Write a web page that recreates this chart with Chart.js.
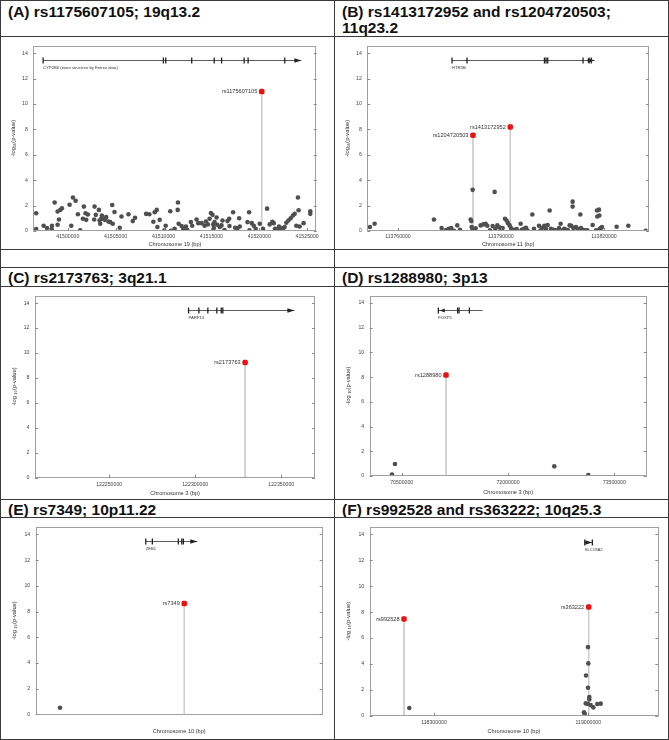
<!DOCTYPE html>
<html><head><meta charset="utf-8">
<script src="https://cdn.jsdelivr.net/npm/chart.js@4.4.1/dist/chart.umd.min.js"></script>
<style>
html,body{margin:0;padding:0;background:#fff;}
#wrap{position:relative;width:669px;height:740px;overflow:hidden;font-family:"Liberation Sans",Arial,sans-serif;}
.hl{position:absolute;left:0;width:669px;height:1px;background:#3a3a3a;z-index:5;}
.vl{position:absolute;top:0;width:1px;height:740px;background:#3a3a3a;z-index:5;}
.ttl{position:absolute;font-weight:bold;font-size:15.5px;line-height:16px;color:#111;white-space:normal;}
canvas{position:absolute;}
</style></head>
<body><div id="wrap">
<canvas id="cA" width="334" height="213" style="left:0;top:37px"></canvas>
<canvas id="cB" width="335" height="213" style="left:334px;top:37px"></canvas>
<canvas id="cC" width="334" height="213" style="left:0;top:287px"></canvas>
<canvas id="cD" width="335" height="213" style="left:334px;top:287px"></canvas>
<canvas id="cE" width="334" height="222" style="left:0;top:518px"></canvas>
<canvas id="cF" width="335" height="222" style="left:334px;top:518px"></canvas>
<div class="ttl" style="left:8px;top:4px">(A) rs1175607105; 19q13.2</div>
<div class="ttl" style="left:342px;top:4px;width:320px">(B) rs1413172952 and rs1204720503; 11q23.2</div>
<div class="ttl" style="left:8px;top:269.5px">(C) rs2173763; 3q21.1</div>
<div class="ttl" style="left:342px;top:269.5px">(D) rs1288980; 3p13</div>
<div class="ttl" style="left:8px;top:502px">(E) rs7349; 10p11.22</div>
<div class="ttl" style="left:342px;top:502px">(F) rs992528 and rs363222; 10q25.3</div>
<div class="hl" style="top:0"></div>
<div class="hl" style="top:36px"></div>
<div class="hl" style="top:249px"></div>
<div class="hl" style="top:267px"></div>
<div class="hl" style="top:286px"></div>
<div class="hl" style="top:499px"></div>
<div class="hl" style="top:517px"></div>
<div class="hl" style="top:739px"></div>
<div class="vl" style="left:0"></div>
<div class="vl" style="left:334px"></div>
<div class="vl" style="left:668px"></div>
</div>
<script>
// ---------------- DATA ----------------
const yTicks = [0, 2, 4, 6, 8, 10, 12, 14];
const yMax = 14.6;
const geneTrackY = 13.45;

// Panel A  (chromosome 19)
const aXTicks = [41500000, 41505000, 41510000, 41515000, 41520000, 41525000];
const aPos = [41496700,41496700,41497480,41497830,41498350,41498320,41498630,41498940,41498940,41499080,
41499220,41499390,41500190,41500365,41500540,41500820,41501060,41501300,41501680,41501580,
41501860,41501930,41502100,41502800,41502760,41502930,41503250,41503320,41503390,41503490,
41503560,41503730,41503870,41504010,41504250,41504430,41504640,41504700,41504880,41505430,
41505610,41506340,41506790,41507030,41508180,41508520,41508940,41509080,41509290,41509360,
41509600,41510090,41510230,41510710,41510780,41511160,41511480,41511510,41511580,41511890,
41512070,41512340,41512480,41512860,41513000,41513450,41513630,41513980,41514290,41514430,
41514630,41514810,41514950,41515120,41515190,41515260,41515330,41515540,41515610,41515880,
41516060,41516160,41516370,41516680,41516860,41516890,41517270,41517480,41517720,41517900,
41517970,41518770,41518940,41518980,41519220,41519430,41519630,41520050,41520400,41520820,
41521090,41521370,41521510,41521650,41521720,41521960,41522060,41522200,41522310,41522480,
41522650,41522830,41523040,41523280,41523520,41523700,41523870,41524040,41524110,41524220,
41524630,41525330,41525330];
const aLogP = [1.40,0.16,0.41,0.23,0.41,0.16,2.25,1.53,0.49,0.91,
1.66,1.79,2.07,0.41,2.64,2.38,1.32,0.05,1.92,0.96,
1.40,0.88,1.30,1.92,0.91,1.27,1.66,0.83,0.57,0.96,
1.22,0.96,0.88,1.09,0.75,0.70,2.05,0.57,1.50,0.26,
1.14,1.32,0.78,1.04,1.35,1.32,0.73,1.48,1.66,0.31,
0.88,0.05,0.41,1.55,0.02,0.18,1.66,2.25,0.57,0.39,
0.16,0.36,0.08,0.70,0.41,0.91,0.62,0.62,0.41,0.75,
0.52,0.96,1.42,1.27,0.52,0.23,0.70,1.06,0.49,0.31,
0.44,0.83,0.08,0.78,0.96,0.39,1.48,0.26,0.21,1.01,
0.36,0.70,1.48,0.05,0.62,0.41,0.18,0.57,0.18,1.76,
0.52,0.73,0.62,0.18,0.05,0.10,0.36,0.16,0.23,0.10,
0.31,0.65,0.83,1.01,1.22,1.35,0.41,2.64,1.63,0.36,
0.62,1.55,1.35];
const aLeadNames = ["rs1175607105"];
const aLeadPos = [41520260];
const aLeadLogP = [10.98];
const aGeneName = "CYP2B6 (exon structure by Entrez data)";
const aGeneSpan = [41497420, 41524400];
const aExons = [41497420, 41509980, 41510230, 41512940, 41515290, 41516060, 41518420, 41518830, 41522660];

// Panel B  (chromosome 11)
const bXTicks = [113760000, 113790000, 113820000];
const bPos = [113751840,113753200,113770490,113772720,113773890,113774370,113774860,113775540,113776310,113777280,
113778060,113781170,113781360,113781460,113781650,113781750,113782620,113784080,113784860,113785540,
113786020,113786800,113787580,113788160,113788350,113788940,113789420,113789910,113790490,113791170,
113791650,113792040,113792530,113792920,113793400,113793890,113794570,113795730,113796020,113796700,
113797290,113797670,113799130,113799620,113801070,113801560,113802040,113802630,113803110,113803600,
113804180,113804570,113805440,113806020,113806900,113807390,113807970,113808450,113809040,113809520,
113810010,113810490,113810880,113810880,113811070,113811850,113812340,113813110,113813310,113813800,
113814470,113815150,113816710,113817680,113817970,113818550,113818070,113818650,113818750,113819140,
113819420,113823700,113827100,113832150];
const bLogP = [0.31,0.57,0.91,0.23,0.05,0.10,0.18,0.23,0.02,0.44,
0.10,0.91,0.78,0.31,0.05,3.24,0.21,0.44,0.52,0.57,
0.41,0.05,0.39,3.08,0.18,0.44,0.31,0.18,0.23,0.96,
0.83,0.62,0.44,0.23,0.05,0.10,0.16,0.57,0.10,0.18,
0.26,0.05,1.30,0.18,0.41,0.05,0.26,0.41,0.16,0.47,
1.61,0.18,0.10,0.05,0.23,0.57,0.05,0.18,0.10,0.05,
0.44,0.41,2.31,1.92,0.23,0.31,0.16,1.30,0.23,0.10,
0.05,0.05,0.47,0.05,1.61,1.68,1.14,1.22,0.18,0.23,
0.31,0.34,0.41,0.02];
const bLeadNames = ["rs1204720503", "rs1413172952"];
const bLeadPos = [113781850, 113792720];
const bLeadLogP = [7.54, 8.19];
const bGeneName = "HTR3B";
const bGeneSpan = [113775730, 113817300];
const bExons = [113775730, 113780100, 113802650, 113803110, 113803610, 113813890, 113815640, 113816280];

// Panel C  (chromosome 3)
const cXTicks = [122250000, 122300000, 122350000];
const cPos = [];
const cLogP = [];
const cLeadNames = ["rs2173763"];
const cLeadPos = [122329000];
const cLeadLogP = [9.23];
const cGeneName = "PARP15";
const cGeneSpan = [122296100, 122357600];
const cExons = [122296100, 122302090, 122307310, 122312530, 122315080, 122316010];

// Panel D  (chromosome 3)
const dXTicks = [70500000, 72000000, 73500000];
const dPos = [70363100, 70363100, 70405000, 72653300, 73133100];
const dLogP = [0.05, 0.12, 0.97, 0.78, 0.08];
const dLeadNames = ["rs1288980"];
const dLeadPos = [71125100];
const dLeadLogP = [8.17];
const dGeneName = "FOXP1";
const dGeneSpan = [71016500, 71641600];
const dExons = [71016500, 71288800, 71308600, 71453900];

// Panel E  (chromosome 10, no tick labels shown)
const eXTicks = [];
const ePos = [30243000];
const eLogP = [0.51];
const eLeadNames = ["rs7349"];
const eLeadPos = [31486000];
const eLeadLogP = [8.62];
const eGeneName = "ZEB1";
const eGeneSpan = [31100000, 31616000];
const eExons = [31100000, 31166000, 31426000, 31460000, 31476000];

// Panel F  (chromosome 10)
const fXTicks = [118300000, 119000000];
const fPos = [118188000,118998600,119000000,118989600,118998600,119004500,119004500,118988200,118998600,119010900,119022700,119040800,119056200,118980500,118983700];
const fLogP = [0.59,5.30,4.04,3.11,2.16,1.44,1.26,0.95,0.90,0.82,0.64,0.90,0.93,0.26,0.15];
const fLeadNames = ["rs992528", "rs363222"];
const fLeadPos = [118163900, 119001800];
const fLeadLogP = [7.47, 8.40];
const fGeneName = "SLC18A2";
const fGeneSpan = [118983700, 119018100];
const fExons = [118983700, 119018100];

// ---------------- RENDER ----------------
const FAM = '"Liberation Sans", Arial, sans-serif';
Chart.defaults.font.family = FAM;

function line(ctx, x0, y0, x1, y1) { ctx.beginPath(); ctx.moveTo(x0, y0); ctx.lineTo(x1, y1); ctx.stroke(); }

function makePanel(id, d, L) {
  const datasets = [];
  datasets.push({ data: d.leadPos.map((x, i) => ({ x: x, y: d.leadLogP[i] })), backgroundColor: '#ee1111',
    borderWidth: 0, pointStyle: 'rectRounded', pointRadius: 3.2, order: 0 });
  datasets.push({ data: d.pos.map((x, i) => ({ x: x, y: d.logP[i] })), backgroundColor: '#4f4f4f',
    borderWidth: 0, pointRadius: 2.3, order: 1 });
  d.leadPos.forEach((x, i) => {
    datasets.push({ data: [{ x: x, y: d.leadLogP[i] }, { x: x, y: 0 }], showLine: true, borderColor: '#cdcdcd',
      borderWidth: 1, pointRadius: 0, order: 2 });
  });
  const plugin = {
    id: 'locus' + id,
    afterDraw(chart) {
      const { ctx, chartArea: a, scales: { x, y } } = chart;
      ctx.save();
      ctx.strokeStyle = '#a0a0a0'; ctx.lineWidth = 1;
      ctx.strokeRect(Math.round(a.left) + 0.5, Math.round(a.top) + 0.5, Math.round(a.right - a.left) - 1, Math.round(a.bottom - a.top) - 1);
      ctx.strokeStyle = '#8a8a8a';
      yTicks.forEach(v => {
        const py = Math.round(y.getPixelForValue(v)) + 0.5;
        line(ctx, a.left, py, a.left + 3, py);
        line(ctx, a.right - 3, py, a.right, py);
      });
      d.xTicks.forEach(v => {
        const px = Math.round(x.getPixelForValue(v)) + 0.5;
        line(ctx, px, a.bottom, px, a.bottom - 3);
      });
      // gene track
      const gy = Math.round(y.getPixelForValue(geneTrackY)) + 0.5;
      const gx0 = x.getPixelForValue(d.geneSpan[0]);
      const gx1 = x.getPixelForValue(d.geneSpan[1]);
      ctx.strokeStyle = '#333'; ctx.fillStyle = '#222'; ctx.lineWidth = 0.8;
      line(ctx, gx0, gy, gx1, gy);
      d.exons.forEach(e => {
        const ex = x.getPixelForValue(e);
        ctx.fillRect(ex - 0.6, gy - 3, 1.3, 6);
      });
      ctx.beginPath();
      if (d.strand > 0) {
        ctx.moveTo(gx1, gy); ctx.lineTo(gx1 - 7, gy - 2.2); ctx.lineTo(gx1 - 7, gy + 2.2);
      } else {
        ctx.moveTo(gx0 + 1.5, gy); ctx.lineTo(gx0 + 6.5, gy - 2); ctx.lineTo(gx0 + 6.5, gy + 2);
      }
      ctx.closePath(); ctx.fill();
      ctx.font = '4.2px ' + FAM; ctx.textAlign = 'left'; ctx.textBaseline = 'middle'; ctx.fillStyle = '#333';
      ctx.fillText(d.geneName, gx0, gy + 7);
      // lead labels
      ctx.font = '5.6px ' + FAM; ctx.textAlign = 'right'; ctx.fillStyle = '#333';
      d.leadPos.forEach((p, i) => {
        ctx.fillText(d.leadNames[i], x.getPixelForValue(p) - 4.5, y.getPixelForValue(d.leadLogP[i]));
      });
      ctx.restore();
    }
  };
  new Chart(document.getElementById(id), {
    type: 'scatter',
    data: { datasets: datasets },
    plugins: [plugin],
    options: {
      responsive: false, animation: false, devicePixelRatio: 1,
      layout: { padding: { left: 0, top: L.top, right: L.right, bottom: 0 } },
      plugins: { legend: { display: false }, tooltip: { enabled: false } },
      scales: {
        x: {
          type: 'linear', min: d.xMin, max: d.xMax,
          afterBuildTicks: s => { s.ticks = d.xTicks.map(v => ({ value: v })); },
          afterFit: s => { s.height = L.xh; },
          grid: { display: false, drawTicks: false }, border: { display: false },
          ticks: { display: d.xTicks.length > 0, autoSkip: false, maxRotation: 0, padding: L.xtp,
            font: { size: 5.2 }, color: '#444', callback: v => String(v) },
          title: { display: true, text: d.xTitle, font: { size: 5.6 }, color: '#333', padding: { top: 0, bottom: L.xtb } }
        },
        y: {
          type: 'linear', min: 0, max: yMax,
          afterBuildTicks: s => { s.ticks = yTicks.map(v => ({ value: v })); },
          afterFit: s => { s.width = L.yw; },
          grid: { display: false, drawTicks: false }, border: { display: false },
          ticks: { padding: 5.5, font: { size: 5.2 }, color: '#444', callback: v => String(v) },
          title: { display: true, text: d.yTitle, font: { size: 5.8 }, color: '#333', padding: { top: L.ytp, bottom: 0 } }
        }
      }
    }
  });
}

makePanel('cA', { xMin: 41496400, xMax: 41526000, xTicks: aXTicks, pos: aPos, logP: aLogP, leadNames: aLeadNames,
  leadPos: aLeadPos, leadLogP: aLeadLogP, geneName: aGeneName, geneSpan: aGeneSpan, exons: aExons, strand: 1,
  xTitle: 'Chromosome 19 (bp)', yTitle: '-log\u2081\u2080(p-value)' },
  { top: 6.3, right: 17.3, xh: 19, xtp: 2.7, xtb: 2.4, yw: 33.3, ytp: 9.8 });
makePanel('cB', { xMin: 113751070, xMax: 113833120, xTicks: bXTicks, pos: bPos, logP: bLogP, leadNames: bLeadNames,
  leadPos: bLeadPos, leadLogP: bLeadLogP, geneName: bGeneName, geneSpan: bGeneSpan, exons: bExons, strand: 1,
  xTitle: 'Chromosome 11 (bp)', yTitle: '-log\u2081\u2080(p-value)' },
  { top: 6.3, right: 20, xh: 19, xtp: 2.7, xtb: 2.4, yw: 33.3, ytp: 9.8 });
makePanel('cC', { xMin: 122206900, xMax: 122369600, xTicks: cXTicks, pos: cPos, logP: cLogP, leadNames: cLeadNames,
  leadPos: cLeadPos, leadLogP: cLeadLogP, geneName: cGeneName, geneSpan: cGeneSpan, exons: cExons, strand: 1,
  xTitle: 'Chromosome 3 (bp)', yTitle: '-log \u2081\u2080(p-value)' },
  { top: 8, right: 19, xh: 22.5, xtp: 4, xtb: 3.4, yw: 35, ytp: 10.5 });
makePanel('cD', { xMin: 70048400, xMax: 73957200, xTicks: dXTicks, pos: dPos, logP: dLogP, leadNames: dLeadNames,
  leadPos: dLeadPos, leadLogP: dLeadLogP, geneName: dGeneName, geneSpan: dGeneSpan, exons: dExons, strand: -1,
  xTitle: 'Chromosome 3 (bp)', yTitle: '-log \u2081\u2080(p-value)' },
  { top: 8, right: 22.3, xh: 24, xtp: 3.8, xtb: 4.4, yw: 35.7, ytp: 11 });
makePanel('cE', { xMin: 30000000, xMax: 32870000, xTicks: eXTicks, pos: ePos, logP: eLogP, leadNames: eLeadNames,
  leadPos: eLeadPos, leadLogP: eLeadLogP, geneName: eGeneName, geneSpan: eGeneSpan, exons: eExons, strand: 1,
  xTitle: 'Chromosome 10 (bp)', yTitle: '-log \u2081\u2080(p-value)' },
  { top: 8.7, right: 11.3, xh: 25.7, xtp: 3.5, xtb: 5, yw: 35.7, ytp: 11 });
makePanel('cF', { xMin: 118008330, xMax: 119317500, xTicks: fXTicks, pos: fPos, logP: fLogP, leadNames: fLeadNames,
  leadPos: fLeadPos, leadLogP: fLeadLogP, geneName: fGeneName, geneSpan: fGeneSpan, exons: fExons, strand: 1,
  xTitle: 'Chromosome 10 (bp)', yTitle: '-log \u2081\u2080(p-value)' },
  { top: 8.7, right: 10.7, xh: 24.3, xtp: 3.6, xtb: 5.4, yw: 35.7, ytp: 11 });
</script>
</body></html>
